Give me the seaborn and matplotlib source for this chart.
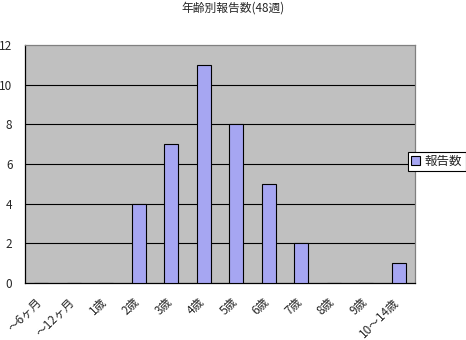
import matplotlib
matplotlib.use("Agg")
import matplotlib.pyplot as plt
import seaborn as sns
import pandas as pd
import numpy as np

categories = ["～6ヶ月", "～12ヶ月", "1歳", "2歳", "3歳", "4歳", "5歳", "6歳", "7歳", "8歳", "9歳", "10～14歳"]
values = [0, 0, 0, 4, 7, 11, 8, 5, 2, 0, 0, 1]
series_name = "報告数"
title = "年齢別報告数(48週)"
yticks = [0, 2, 4, 6, 8, 10, 12]

sns.set_style("white")
plt.rcParams['font.family'] = ['Noto Sans CJK JP', 'DejaVu Sans']

df = pd.DataFrame({"age": categories, "count": values, "series": series_name})

fig = plt.figure(figsize=(4.66, 3.40), dpi=100)
ax = fig.add_axes([25/466, 57/340, 390/466, 238/340])
ax.set_facecolor("#C0C0C0")

sns.barplot(data=df, x="age", y="count", hue="series", palette=["#9999FF"],
            width=0.43, edgecolor="black", linewidth=0.8, ax=ax, zorder=3)

ax.set_ylim(0, 12)
ax.set_xlim(-0.5, len(categories) - 0.5)
ax.set_yticks(yticks)
ax.set_yticklabels([str(v) for v in yticks], fontsize=8.5)
for v in yticks[1:-1]:
    ax.axhline(v, color="black", linewidth=0.8, zorder=1)

ax.set_xticks(np.arange(len(categories)) - 0.18)
ax.set_xticklabels(categories, rotation=45, ha="right", rotation_mode="anchor", fontsize=8.5)
ax.tick_params(axis="x", which="major", length=0, pad=9)
ax.set_xticks(np.arange(0.5, len(categories) - 0.5, 1), minor=True)
ax.tick_params(axis="x", which="minor", direction="in", length=3, color="black")
ax.tick_params(axis="y", which="major", length=0, pad=9)
ax.set_xlabel("")
ax.set_ylabel("")

for side in ["left", "bottom"]:
    ax.spines[side].set_color("black")
    ax.spines[side].set_linewidth(0.9)
for side in ["top", "right"]:
    ax.spines[side].set_color("#808080")
    ax.spines[side].set_linewidth(0.9)
    ax.spines[side].set_visible(True)

leg = ax.legend(loc="upper left", bbox_to_anchor=(408/466, (340-152)/340),
                bbox_transform=fig.transFigure, fontsize=9, frameon=True,
                fancybox=False, edgecolor="black", framealpha=1,
                handlelength=0.7, handleheight=0.7, handletextpad=0.4,
                borderpad=0.25, borderaxespad=0)
leg.get_frame().set_linewidth(0.8)

fig.text(233/466, 1 - 8/340, title, ha="center", va="center", fontsize=8.5)

fig.savefig("out.png", dpi=100)
